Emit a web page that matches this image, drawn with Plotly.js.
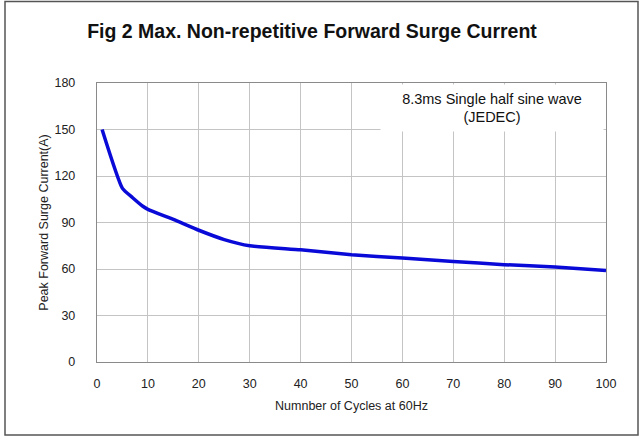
<!DOCTYPE html>
<html>
<head>
<meta charset="utf-8">
<script src="https://cdn.plot.ly/plotly-3.0.1.min.js"></script>
<style>html,body{margin:0;padding:0;background:#fff;}#chart{width:640px;height:437px;}</style>
</head>
<body>
<div id="chart"></div>
<script>
const cycles = [1, 5, 7, 9, 10, 15, 20, 25, 30, 40, 50, 60, 70, 80, 90, 100];
const surgeCurrent = [150, 112, 106, 100.5, 98.5, 92, 85, 79, 75, 72.4, 69.2, 67.1, 64.9, 62.8, 61.3, 59.1];
const xTicks = [0, 10, 20, 30, 40, 50, 60, 70, 80, 90, 100];
const yTicks = [0, 30, 60, 90, 120, 150, 180];

const font = "Liberation Sans, Arial, sans-serif";
const trace = {
  x: cycles, y: surgeCurrent, type: 'scatter', mode: 'lines',
  line: {color: '#0a0ad8', width: 3.5, shape: 'spline', smoothing: 0.5},
  hoverinfo: 'skip'
};
const layout = {
  width: 640, height: 437,
  margin: {l: 97, r: 34, t: 83, b: 75},
  paper_bgcolor: '#fff', plot_bgcolor: '#fff',
  showlegend: false,
  font: {family: font, color: '#222', size: 12.5},
  title: {text: 'Fig 2 Max. Non-repetitive Forward Surge Current', font: {family: font, size: 19.5, color: '#111', weight: 'bold'},
          x: 0.4875, xref: 'container', xanchor: 'center', y: 1 - 31/437, yref: 'container', yanchor: 'middle'},
  xaxis: {range: [0, 100], tickvals: xTicks, ticktext: xTicks.map(String), showgrid: true, gridcolor: '#c4c4c4', gridwidth: 1,
          zeroline: false, showline: true, linecolor: '#8a8a8a', linewidth: 1.2, mirror: true, ticks: '', ticklabelstandoff: 10,
          fixedrange: true,
          title: {text: 'Numnber of Cycles at 60Hz', font: {family: font, size: 12.5, color: '#222'}, standoff: 11}},
  yaxis: {range: [0, 180], tickvals: yTicks, ticktext: yTicks.map(String), showgrid: true, gridcolor: '#c4c4c4', gridwidth: 1,
          zeroline: false, showline: true, linecolor: '#8a8a8a', linewidth: 1.2, mirror: true, ticks: '', ticklabelstandoff: 18,
          fixedrange: true,
          title: {text: 'Peak Forward Surge Current(A)', font: {family: font, size: 12.5, color: '#222'}, standoff: 3}},
  annotations: [{
    text: '8.3ms Single half sine wave<br>(JEDEC)', xref: 'paper', yref: 'paper',
    x: (492 - 97) / 509, y: (362 - 108) / 279, xanchor: 'center', yanchor: 'middle',
    showarrow: false, bgcolor: '#ffffff', width: 222, height: 46, borderpad: 0,
    font: {family: font, size: 14.5, color: '#111'}, align: 'center'
  }],
  shapes: [{
    type: 'rect', xref: 'paper', yref: 'paper', layer: 'below',
    x0: (5 - 97) / 509, x1: (638 - 97) / 509, y0: (362 - 435) / 279, y1: (362 - 1.5) / 279,
    line: {color: '#555', width: 1.5}, fillcolor: 'rgba(0,0,0,0)'
  }]
};
Plotly.newPlot('chart', [trace], layout, {staticPlot: true, displayModeBar: false});
</script>
</body>
</html>
